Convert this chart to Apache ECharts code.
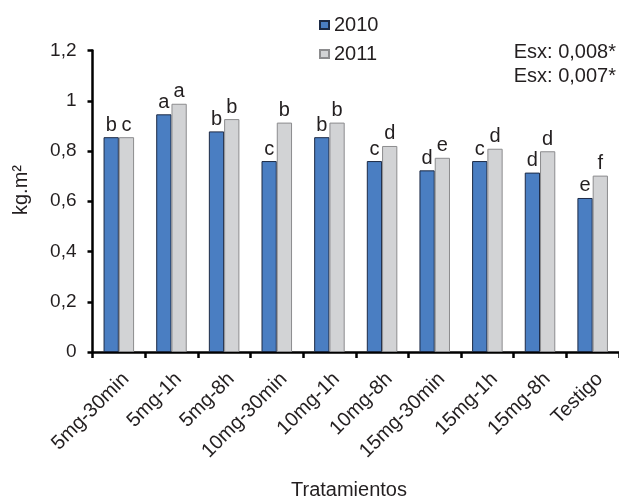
<!DOCTYPE html>
<html>
<head>
<meta charset="utf-8">
<script src="https://cdn.jsdelivr.net/npm/echarts@6/dist/echarts.min.js"></script>
<style>
  html, body { margin: 0; padding: 0; background: #fff; }
  #chart { width: 619px; height: 500px; }
</style>
</head>
<body>
<div id="chart"></div>
<script>
// Treatments on the x axis
const categories = ['5mg-30min', '5mg-1h', '5mg-8h', '10mg-30min', '10mg-1h',
                    '10mg-8h', '15mg-30min', '15mg-1h', '15mg-8h', 'Testigo'];

// Yield (kg.m²) per season
const values2010 = [0.855, 0.946, 0.878, 0.760, 0.855, 0.760, 0.723, 0.760, 0.714, 0.613];
const values2011 = [0.855, 0.988, 0.927, 0.913, 0.913, 0.820, 0.773, 0.809, 0.799, 0.702];

// Mean-separation letters above each bar
const letters2010 = ['b', 'a', 'b', 'c', 'b', 'c', 'd', 'c', 'd', 'e'];
const letters2011 = ['c', 'a', 'b', 'b', 'b', 'd', 'e', 'd', 'd', 'f'];

// Y axis ticks
const yTicks = [0, 0.2, 0.4, 0.6, 0.8, 1, 1.2];

const FONT = 'Liberation Sans, Arial, sans-serif';
const TXT = '#231f20';

const chart = echarts.init(document.getElementById('chart'), null, { renderer: 'canvas' });

function letterLabel(arr) {
  return {
    show: true,
    position: 'top',
    distance: 2,
    fontFamily: FONT,
    fontSize: 20,
    color: TXT,
    formatter: p => arr[p.dataIndex]
  };
}

chart.setOption({
  animation: false,
  backgroundColor: '#ffffff',
  textStyle: { fontFamily: FONT },
  grid: { left: 92.5, right: -8, top: 50.5, bottom: 148, containLabel: false },
  legend: {
    orient: 'vertical',
    left: 314,
    top: 10,
    itemWidth: 9,
    itemHeight: 8,
    itemGap: 9,
    icon: 'rect',
    textStyle: { fontFamily: FONT, fontSize: 20, color: TXT, padding: [0, 0, 0, 0] },
    data: ['2010', '2011']
  },
  xAxis: {
    type: 'category',
    data: categories,
    axisLine: { lineStyle: { color: '#000', width: 2.5 } },
    axisTick: { show: true, length: 6, lineStyle: { color: '#000', width: 2.5 } },
    axisLabel: {
      rotate: 45,
      interval: 0,
      margin: 17,
      verticalAlign: 'top',
      fontFamily: FONT,
      fontSize: 20,
      color: TXT
    }
  },
  yAxis: {
    type: 'value',
    min: yTicks[0],
    max: yTicks[yTicks.length - 1],
    interval: 0.2,
    splitLine: { show: false },
    axisLine: { show: true, lineStyle: { color: '#000', width: 2.5 } },
    axisTick: { show: true, length: 5, lineStyle: { color: '#000', width: 2.5 } },
    axisLabel: {
      margin: 16,
      fontFamily: FONT,
      fontSize: 19,
      color: TXT,
      formatter: v => String(Math.round(v * 10) / 10).replace('.', ',')
    }
  },
  graphic: [
    {
      // y-axis title
      type: 'text', x: 21, y: 190, rotation: Math.PI / 2,
      style: { text: 'kg.m²', font: '20px ' + FONT, fill: TXT, textAlign: 'center', textVerticalAlign: 'middle' }
    },
    {
      // x-axis title
      type: 'text', x: 349, y: 490,
      style: { text: 'Tratamientos', font: '20px ' + FONT, fill: TXT, textAlign: 'center', textVerticalAlign: 'middle' }
    },
    {
      type: 'text', x: 616, y: 52,
      style: { text: 'Esx: 0,008*', font: '20px ' + FONT, fill: TXT, textAlign: 'right', textVerticalAlign: 'middle' }
    },
    {
      type: 'text', x: 616, y: 76,
      style: { text: 'Esx: 0,007*', font: '20px ' + FONT, fill: TXT, textAlign: 'right', textVerticalAlign: 'middle' }
    }
  ],
  series: [
    {
      name: '2010',
      type: 'bar',
      data: values2010,
      barGap: '0%',
      barCategoryGap: '42%',
      itemStyle: { color: '#4a7ec2', borderColor: '#1c2a45', borderWidth: 1 },
      label: letterLabel(letters2010)
    },
    {
      name: '2011',
      type: 'bar',
      data: values2011,
      barGap: '0%',
      barCategoryGap: '42%',
      itemStyle: { color: '#d2d3d5', borderColor: '#8c8c8e', borderWidth: 1 },
      label: letterLabel(letters2011)
    }
  ]
});
</script>
</body>
</html>
